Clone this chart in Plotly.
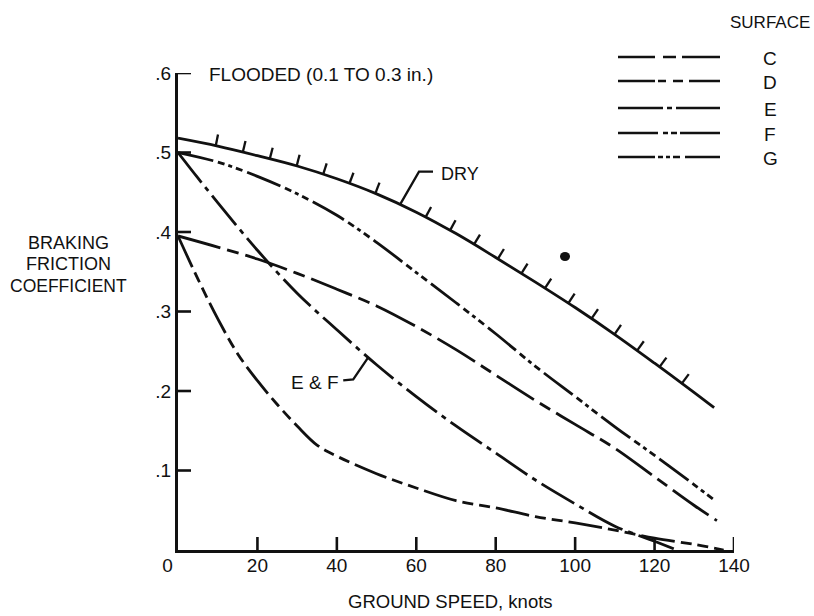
import numpy as np
import plotly.graph_objects as go

# ---------------- data ----------------
speed_dry = [0, 10, 20, 30, 40, 50, 60, 70, 80, 90, 100, 110, 120, 130, 135]
mu_dry = [0.518, 0.508, 0.496, 0.483, 0.467, 0.448, 0.425, 0.398, 0.368, 0.337,
          0.305, 0.271, 0.235, 0.198, 0.179]

speed_g = [0, 10, 20, 30, 40, 50, 60, 70, 80, 90, 100, 110, 120, 130, 135.5]
mu_g = [0.500, 0.488, 0.470, 0.448, 0.421, 0.387, 0.349, 0.311, 0.272, 0.231,
        0.193, 0.155, 0.119, 0.082, 0.061]

speed_c = [0, 10, 20, 30, 40, 50, 60, 70, 80, 90, 100, 110, 120, 130, 135.7]
mu_c = [0.395, 0.381, 0.366, 0.348, 0.328, 0.307, 0.281, 0.252, 0.220, 0.188,
        0.158, 0.128, 0.092, 0.056, 0.037]

speed_ef = [0, 5, 10, 20, 30, 40, 50, 60, 70, 80, 90, 100, 110, 120, 125.6]
mu_ef = [0.500, 0.468, 0.437, 0.377, 0.323, 0.277, 0.233, 0.193, 0.156, 0.122,
         0.088, 0.058, 0.030, 0.011, 0.0]

speed_d = [0, 5, 10, 15, 20, 25, 30, 35, 40, 50, 60, 70, 80, 90, 100, 110, 120, 130, 137.4]
mu_d = [0.395, 0.341, 0.291, 0.247, 0.213, 0.183, 0.156, 0.132, 0.118, 0.096,
        0.078, 0.062, 0.053, 0.042, 0.034, 0.025, 0.015, 0.007, 0.0]

x_ticks = [0, 20, 40, 60, 80, 100, 120, 140]
x_ticktext = ["0\u00a0\u00a0\u00a0\u00a0", "20", "40", "60", "80", "100", "120", "140"]
y_ticks = [0.1, 0.2, 0.3, 0.4, 0.5, 0.6]
y_ticktext = [".1", ".2", ".3", ".4", ".5", ".6"]

legend_labels = ["C", "D", "E", "F", "G"]

# ---------------- layout geometry ----------------
W, H = 814, 616
L, R, T, B = 178, 734, 73, 550
XMAX, YMAX = 140, 0.6
sx = (R - L) / XMAX
sy = (B - T) / YMAX

FONT = "Liberation Sans, Arial, sans-serif"
INK = "#111111"
LW = 2.8

def to_px(k, m):
    return L + k * sx, B - m * sy

def to_data(px, py):
    return (px - L) / sx, (B - py) / sy

def px2paper(px, py):
    return (px - L) / (R - L), (B - py) / (B - T)

dash_c = "44px,7px,12px,7px"
dash_d = "34px,6px,11px,6px,11px,6px"
dash_ef = "38px,6px,5px,6px"
dash_g = "36px,5px,7px,4px,4px,4px,7px,5px"

fig = go.Figure()
for xs, ys, dash in [(speed_dry, mu_dry, "solid"), (speed_g, mu_g, dash_g),
                     (speed_c, mu_c, dash_c), (speed_ef, mu_ef, dash_ef),
                     (speed_d, mu_d, dash_d)]:
    fig.add_trace(go.Scatter(x=xs, y=ys, mode="lines",
                             line=dict(color=INK, width=LW, dash=dash, shape="spline", smoothing=1.0),
                             showlegend=False, hoverinfo="skip"))

shapes = []

# ---- axis tick marks (inside), one shape per tick value ----
TL = 13
for v in x_ticks[1:]:
    shapes.append(dict(type="line", xref="x", yref="paper", x0=v, x1=v,
                       y0=0, y1=TL / (B - T), layer="above",
                       line=dict(color=INK, width=2.6)))
for v in y_ticks:
    shapes.append(dict(type="line", xref="paper", yref="y", x0=0, x1=TL / (R - L),
                       y0=v, y1=v, layer="above",
                       line=dict(color=INK, width=2.6)))

# ---- hatch marks on the DRY boundary ----
pts = np.array([to_px(k, m) for k, m in zip(speed_dry, mu_dry)])
seg = np.hypot(np.diff(pts[:, 0]), np.diff(pts[:, 1]))
cum = np.concatenate([[0], np.cumsum(seg)])
def point_at(s):
    i = min(np.searchsorted(cum, s) - 1, len(seg) - 1)
    i = max(i, 0)
    t = (s - cum[i]) / seg[i]
    p = pts[i] + t * (pts[i + 1] - pts[i])
    d = (pts[i + 1] - pts[i]) / seg[i]
    return p, d

leader_k = 55.9
leader_m = float(np.interp(leader_k, speed_dry, mu_dry))
lp = np.array(to_px(leader_k, leader_m))
s_start = 38.5
spacing = 27.8
s = s_start
while s < cum[-1] - 20:
    p, d = point_at(s)
    if np.hypot(*(p - lp)) > 12:
        n = np.array([d[1], -d[0]])
        q = p + 11.5 * n
        x0, y0 = to_data(*p)
        x1, y1 = to_data(*q)
        shapes.append(dict(type="line", xref="x", yref="y", x0=x0, y0=y0, x1=x1, y1=y1,
                           line=dict(color=INK, width=2.3)))
    s += spacing

# ---- leader for DRY ----
bx, by = lp
p1 = to_data(bx + 19, by - 33)
p2 = to_data(bx + 33, by - 33)
shapes.append(dict(type="path", xref="x", yref="y",
                   path=f"M {leader_k},{leader_m} L {p1[0]},{p1[1]} L {p2[0]},{p2[1]}",
                   line=dict(color=INK, width=2.3)))

# ---- leader for E & F ----
ef_k = 47.9
ef_m = float(np.interp(ef_k, speed_ef, mu_ef))
ex, ey = to_px(ef_k, ef_m)
q1 = to_data(ex - 15, ey + 22)
q2 = to_data(ex - 25, ey + 23)
shapes.append(dict(type="path", xref="x", yref="y",
                   path=f"M {ef_k},{ef_m} L {q1[0]},{q1[1]} L {q2[0]},{q2[1]}",
                   line=dict(color=INK, width=2.3)))

# ---- small ink blot of the scanned original ----
c0 = to_data(560, 252)
c1 = to_data(570, 261)
shapes.append(dict(type="circle", xref="x", yref="y", x0=c0[0], y0=c0[1], x1=c1[0], y1=c1[1],
                   fillcolor=INK, line=dict(width=0)))

# ---- legend key lines ----
legend_dash = ["37px,8px,13px,6px,200px",
               "37px,3px,8px,7px,10px,6px,200px",
               "45px,4px,5px,4px,200px",
               "40px,5px,5px,3px,6px,3px,200px",
               "37px,3px,5px,3px,4px,3px,7px,5px,200px"]
legend_y = [57, 81, 108, 133, 157]
annotations = []
for lab, dsh, py in zip(legend_labels, legend_dash, legend_y):
    xa, ya = px2paper(618, py)
    xb, _ = px2paper(720, py)
    shapes.append(dict(type="line", xref="paper", yref="paper", x0=xa, y0=ya, x1=xb, y1=ya,
                       line=dict(color=INK, width=2.4, dash=dsh)))
    xc, yc = px2paper(770, py + 1)
    annotations.append(dict(text=lab, x=xc, y=yc, xref="paper", yref="paper",
                            xanchor="center", yanchor="middle", showarrow=False,
                            font=dict(size=19, color=INK, family=FONT)))

def add_text(text, px, py, xanchor="left", size=18):
    xp, yp = px2paper(px, py)
    annotations.append(dict(text=text, x=xp, y=yp, xref="paper", yref="paper",
                            xanchor=xanchor, yanchor="middle", showarrow=False,
                            font=dict(size=size, color=INK, family=FONT)))

add_text("SURFACE", 770, 22, "center", 17)
add_text("FLOODED (0.1 TO 0.3 in.)", 207, 74, "left", 19)
add_text("DRY", 439, 174, "left", 18)
add_text("E &amp; F", 341, 382, "right", 19)
add_text("BRAKING", 68, 243, "center", 18)
add_text("FRICTION", 68, 264, "center", 18)
add_text("COEFFICIENT", 68, 286, "center", 17.5)
add_text("GROUND SPEED, knots", 450, 601, "center", 18.5)

fig.update_layout(
    width=W, height=H,
    margin=dict(l=L, r=W - R, t=T, b=H - B, pad=0),
    paper_bgcolor="white", plot_bgcolor="white",
    shapes=shapes, annotations=annotations,
    font=dict(family=FONT, color=INK),
    xaxis=dict(range=[0, XMAX], tickvals=x_ticks, ticktext=x_ticktext,
               showgrid=False, zeroline=False, showline=True, linecolor=INK, linewidth=3,
               ticks="", ticklabelstandoff=-4,
               tickfont=dict(size=19, family=FONT, color=INK), fixedrange=True),
    yaxis=dict(range=[0, YMAX], tickvals=y_ticks, ticktext=y_ticktext,
               showgrid=False, zeroline=False, showline=True, linecolor=INK, linewidth=3,
               ticks="", ticklabelstandoff=0,
               tickfont=dict(size=19, family=FONT, color=INK), fixedrange=True),
    showlegend=False,
)

fig.write_html("out.html", config={"displayModeBar": False},
               post_script="document.body.style.margin='0';document.body.style.overflow='hidden';")
